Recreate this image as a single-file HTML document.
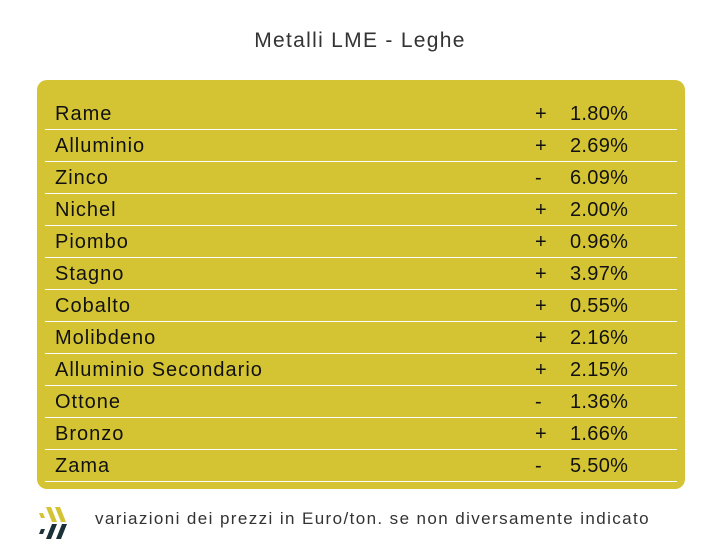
<!DOCTYPE html>
<html><head><meta charset="utf-8"><style>
body{margin:0;width:720px;height:560px;background:#fff;font-family:"Liberation Sans","DejaVu Sans",sans-serif;position:relative;overflow:hidden}
.title{position:absolute;top:29px;left:0;width:720px;text-align:center;font-size:21px;color:#333;letter-spacing:1.3px}
.box{position:absolute;left:37px;top:80px;width:648px;height:409px;background:#d4c434;border-radius:10px}
.row{position:absolute;left:8px;width:632px;height:32px;border-bottom:1px solid #fff;font-size:20px;color:#111}
.row span{position:absolute;top:6px}
.n{left:10px;letter-spacing:1px}
.s{left:490px}
.p{left:525px;letter-spacing:0.3px}
.foot{position:absolute;left:95px;top:509px;font-size:17px;color:#333;letter-spacing:1.4px}
</style></head><body>
<div class="title">Metalli LME - Leghe</div>
<div class="box">
<div class="row" style="top:17px"><span class="n">Rame</span><span class="s">+</span><span class="p">1.80%</span></div>
<div class="row" style="top:49px"><span class="n">Alluminio</span><span class="s">+</span><span class="p">2.69%</span></div>
<div class="row" style="top:81px"><span class="n">Zinco</span><span class="s">-</span><span class="p">6.09%</span></div>
<div class="row" style="top:113px"><span class="n">Nichel</span><span class="s">+</span><span class="p">2.00%</span></div>
<div class="row" style="top:145px"><span class="n">Piombo</span><span class="s">+</span><span class="p">0.96%</span></div>
<div class="row" style="top:177px"><span class="n">Stagno</span><span class="s">+</span><span class="p">3.97%</span></div>
<div class="row" style="top:209px"><span class="n">Cobalto</span><span class="s">+</span><span class="p">0.55%</span></div>
<div class="row" style="top:241px"><span class="n">Molibdeno</span><span class="s">+</span><span class="p">2.16%</span></div>
<div class="row" style="top:273px"><span class="n">Alluminio Secondario</span><span class="s">+</span><span class="p">2.15%</span></div>
<div class="row" style="top:305px"><span class="n">Ottone</span><span class="s">-</span><span class="p">1.36%</span></div>
<div class="row" style="top:337px"><span class="n">Bronzo</span><span class="s">+</span><span class="p">1.66%</span></div>
<div class="row" style="top:369px"><span class="n">Zama</span><span class="s">-</span><span class="p">5.50%</span></div>
</div>
<svg style="position:absolute;left:0;top:0" width="720" height="560">
<g fill="#d4c434">
<polygon points="39,513 43,513 45,518 41,518"/>
<polygon points="46,507 51,507 57,522 52,522"/>
<polygon points="55,507 60,507 66,522 61,522"/>
</g>
<g fill="#1c3038">
<polygon points="41,529 45,529 43,534 39,534"/>
<polygon points="52,524 57,524 51,539 46,539"/>
<polygon points="62,524 67,524 61,539 56,539"/>
</g>
</svg>
<div class="foot">variazioni dei prezzi in Euro/ton. se non diversamente indicato</div>
</body></html>
